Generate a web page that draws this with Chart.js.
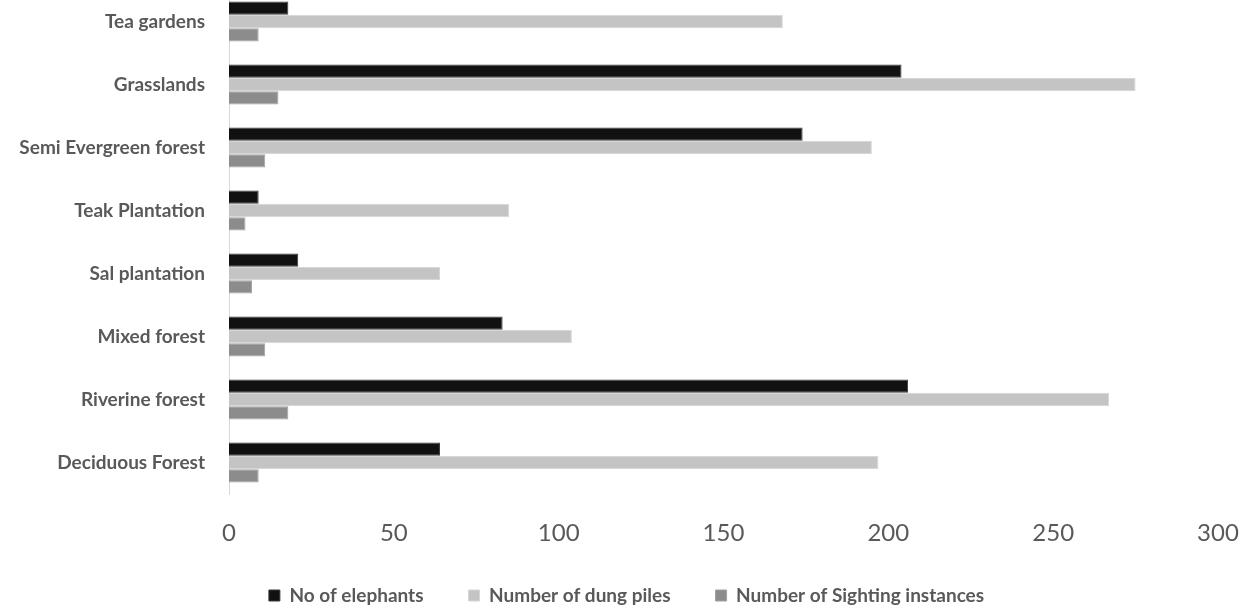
<!DOCTYPE html>
<html>
<head>
<meta charset="utf-8">
<script src="https://cdn.jsdelivr.net/npm/chart.js@4"></script>
<style>
  html, body { margin: 0; padding: 0; background: #fff; overflow: hidden; }
  #wrap { position: absolute; left: 0; top: -10px; width: 1253px; height: 619px; }
</style>
</head>
<body>
<div id="wrap"><canvas id="habitatChart"></canvas></div>
<script>
const habitats = ['Tea gardens', 'Grasslands', 'Semi Evergreen forest', 'Teak Plantation',
    'Sal plantation', 'Mixed forest', 'Riverine forest', 'Deciduous Forest'];

const elephants = [18, 204, 174, 9, 21, 83, 206, 64];
const dungPiles = [168, 275, 195, 85, 64, 104, 267, 197];
const sightings = [9, 15, 11, 5, 7, 11, 18, 9];

const xTicks = [0, 50, 100, 150, 200, 250, 300];

const habitatChart = document.getElementById('habitatChart');

// let the x tick labels run below the (shortened) x axis box
const looseXLabels = {
    id: 'looseXLabels',
    afterLayout(chart) {
        chart.scales.x.bottom = chart.height;
    }
};

new Chart(habitatChart, {
    type: 'bar',
    data: {
        labels: habitats,
        datasets: [{
            label: 'No of elephants',
            backgroundColor: '#111111',
            borderColor: '#3a3a3a',
            borderWidth: 1,
            data: elephants
        }, {
            label: 'Number of dung piles',
            backgroundColor: '#c4c4c4',
            borderColor: '#d6d6d6',
            borderWidth: 1,
            data: dungPiles
        }, {
            label: 'Number of Sighting instances',
            backgroundColor: '#8c8c8c',
            borderColor: '#a0a0a0',
            borderWidth: 1,
            data: sightings
        }]
    },
    plugins: [looseXLabels],
    options: {
        indexAxis: 'y',
        responsive: true,
        maintainAspectRatio: false,
        animation: false,
        datasets: {
            bar: {
                barPercentage: 1,
                categoryPercentage: 0.635
            }
        },
        layout: {
            padding: { left: 0, right: 0, top: 0, bottom: -6 }
        },
        plugins: {
            legend: {
                display: true,
                position: 'bottom',
                labels: {
                    boxWidth: 11,
                    boxHeight: 11,
                    padding: 45,
                    color: '#595959',
                    font: { family: 'Lato', size: 19, weight: 'bold' }
                }
            },
            tooltip: { enabled: false }
        },
        scales: {
            x: {
                min: 0,
                max: 300,
                afterBuildTicks: (scale) => {
                    scale.ticks = xTicks.map(v => ({ value: v }));
                },
                afterFit: (scale) => {
                    scale.height = 47;
                    scale.paddingRight = 35;
                },
                grid: { display: false, drawTicks: false },
                border: { display: false },
                ticks: {
                    padding: 25,
                    color: '#595959',
                    font: { family: 'Lato', size: 24 }
                }
            },
            y: {
                afterFit: (scale) => {
                    scale.width = 229;
                    scale.paddingTop = 0;
                    scale.paddingBottom = 0;
                },
                grid: { display: false, drawTicks: false },
                border: { display: true, color: '#d9d9d9', width: 1 },
                ticks: {
                    padding: 24,
                    color: '#595959',
                    font: { family: 'Lato', size: 19, weight: 'bold' }
                }
            }
        }
    }
});
</script>
</body>
</html>
